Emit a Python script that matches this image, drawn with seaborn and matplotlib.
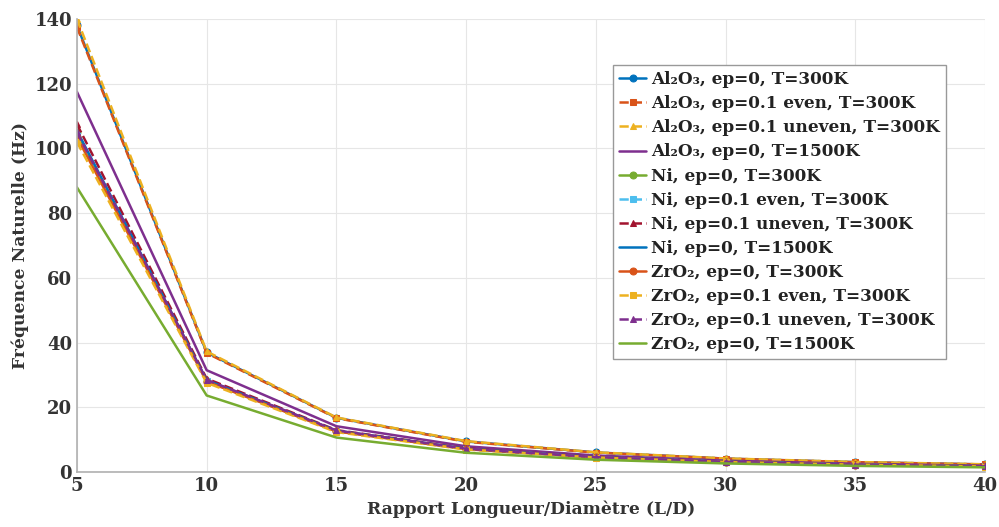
import matplotlib
matplotlib.use("Agg")
import matplotlib.pyplot as plt
import seaborn as sns
import pandas as pd

ratios = [5, 10, 15, 20, 25, 30, 35, 40]

al_ep0_300 = [138.0, 37.0, 16.8, 9.5, 6.1, 4.2, 3.1, 2.4]
al_even_300 = [137.5, 36.8, 16.7, 9.4, 6.05, 4.2, 3.1, 2.4]
al_uneven_300 = [140.0, 37.3, 16.9, 9.6, 6.15, 4.25, 3.15, 2.45]
al_ep0_1500 = [117.5, 31.5, 14.2, 8.0, 5.15, 3.55, 2.6, 2.0]
ni_ep0_300 = [105.0, 28.3, 12.8, 7.2, 4.6, 3.2, 2.35, 1.8]
ni_even_300 = [104.5, 28.1, 12.7, 7.15, 4.6, 3.2, 2.35, 1.8]
ni_uneven_300 = [107.5, 28.9, 13.0, 7.35, 4.7, 3.25, 2.4, 1.85]
ni_ep0_1500 = [105.5, 28.4, 12.8, 7.25, 4.65, 3.2, 2.35, 1.8]
zr_ep0_300 = [103.5, 28.0, 12.6, 7.1, 4.55, 3.15, 2.3, 1.78]
zr_even_300 = [102.0, 27.6, 12.4, 7.0, 4.5, 3.1, 2.3, 1.75]
zr_uneven_300 = [105.0, 28.5, 12.9, 7.25, 4.65, 3.2, 2.35, 1.8]
zr_ep0_1500 = [88.0, 23.7, 10.7, 6.0, 3.85, 2.7, 1.95, 1.5]

labels = [
    "Al\u2082O\u2083, ep=0, T=300K",
    "Al\u2082O\u2083, ep=0.1 even, T=300K",
    "Al\u2082O\u2083, ep=0.1 uneven, T=300K",
    "Al\u2082O\u2083, ep=0, T=1500K",
    "Ni, ep=0, T=300K",
    "Ni, ep=0.1 even, T=300K",
    "Ni, ep=0.1 uneven, T=300K",
    "Ni, ep=0, T=1500K",
    "ZrO\u2082, ep=0, T=300K",
    "ZrO\u2082, ep=0.1 even, T=300K",
    "ZrO\u2082, ep=0.1 uneven, T=300K",
    "ZrO\u2082, ep=0, T=1500K",
]
series = [al_ep0_300, al_even_300, al_uneven_300, al_ep0_1500,
          ni_ep0_300, ni_even_300, ni_uneven_300, ni_ep0_1500,
          zr_ep0_300, zr_even_300, zr_uneven_300, zr_ep0_1500]

colors = ["#0072BD", "#D95319", "#EDB120", "#7E2F8E", "#77AC30", "#4DBEEE",
          "#A2142F", "#0072BD", "#D95319", "#EDB120", "#7E2F8E", "#77AC30"]
markers = ["o", "s", "^", None, "o", "s", "^", None, "o", "s", "^", None]
styles = ["-", "--", "--", "-", "-", "--", "--", "-", "-", "--", "--", "-"]

sns.set_theme(style="whitegrid")
plt.rcParams["font.family"] = ["DejaVu Serif", "DejaVu Sans"]
plt.rcParams["font.weight"] = "bold"

fig, ax = plt.subplots(figsize=(9.99, 5.27), dpi=100)
fig.subplots_adjust(left=0.077, right=0.986, top=0.964, bottom=0.104)

for lab, vals, c, m, ls in zip(labels, series, colors, markers, styles):
    df = pd.DataFrame({"x": ratios, "y": vals})
    sns.lineplot(data=df, x="x", y="y", ax=ax, color=c, marker=m, linestyle=ls,
                 linewidth=1.8, markersize=5, markeredgecolor=c, label=lab)

ax.set_xlim(5, 40)
ax.set_ylim(0, 140)
ax.set_xticks(ratios)
ax.set_yticks(range(0, 141, 20))
ax.grid(True, color="#e6e6e6", linewidth=0.8)
for s in ["top", "right"]:
    ax.spines[s].set_visible(False)
for s in ["left", "bottom"]:
    ax.spines[s].set_color("#b0b0b0")
    ax.spines[s].set_linewidth(1.2)
ax.tick_params(axis="both", labelsize=13, colors="#333333", length=3, direction="in")
for t in ax.get_xticklabels() + ax.get_yticklabels():
    t.set_fontweight("bold")
ax.set_xlabel("Rapport Longueur/Diamètre (L/D)", fontsize=12.3, fontweight="bold", color="#333333")
ax.set_ylabel("Fréquence Naturelle (Hz)", fontsize=12.3, fontweight="bold", color="#333333")

leg = ax.legend(loc="upper right", bbox_to_anchor=(0.957, 0.898), borderaxespad=0,
                fontsize=12.2, frameon=True, fancybox=False, edgecolor="#999999",
                framealpha=1, handlelength=1.6, handletextpad=0.3, borderpad=0.35,
                labelspacing=0.42)
leg.get_frame().set_linewidth(1.0)
for t in leg.get_texts():
    t.set_fontweight("bold")
    t.set_color("#222222")

fig.savefig("out.png", dpi=100)
